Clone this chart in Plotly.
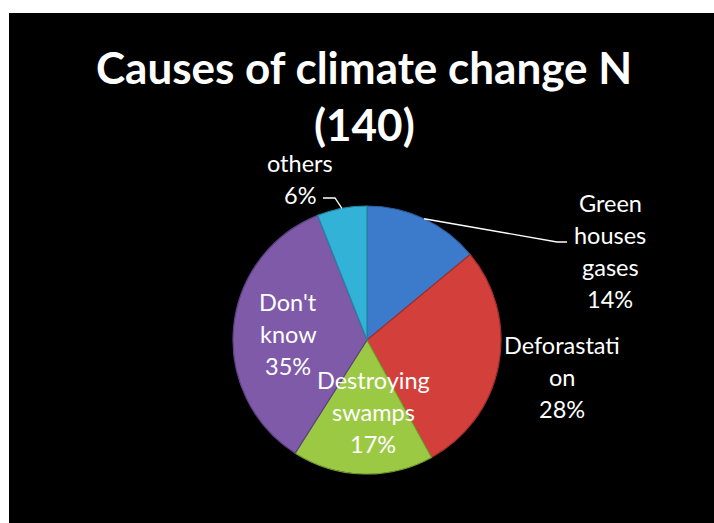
import math
import plotly.graph_objects as go

W, H = 714, 523

# Survey answers (percent of N = 140), clockwise from 12 o'clock
causes = ["Green houses gases", "Deforastation", "Destroying swamps", "Don't know", "others"]
shares = [14, 28, 17, 35, 6]
colors = ["#3C7BCB", "#D3403B", "#9CC944", "#7E5AA9", "#31B2D6"]
edge_colors = ["#2D5E9E", "#A32E2A", "#769A31", "#5E4182", "#2386A3"]

# label text lines per slice
label_lines = [
    ["Green", "houses", "gases", "14%"],
    ["Deforastati", "on", "28%"],
    ["Destroying", "swamps", "17%"],
    ["Don't", "know", "35%"],
    ["others", "6%"],
]

# pie geometry (pixels)
cx, cy, r = 367, 340, 134

# label anchor (centre x, first-line y) in pixels and line pitch
label_pos = [(610, 203), (562, 345), (373, 380), (288, 302), (300, 163)]
pitch = 32

fig = go.Figure()
fig.add_trace(go.Pie(
    labels=causes,
    values=shares,
    sort=False,
    direction="clockwise",
    rotation=0,
    textinfo="none",
    hoverinfo="label+percent",
    marker=dict(colors=colors, line=dict(color=edge_colors, width=1.2)),
    domain=dict(x=[(cx - r) / W, (cx + r) / W], y=[1 - (cy + r) / H, 1 - (cy - r) / H]),
    showlegend=False,
))

def px(x):
    return x / W

def py(y):
    return 1 - y / H

shapes = [dict(type="rect", xref="paper", yref="paper", x0=px(9), x1=1, y0=0, y1=py(13),
               fillcolor="#000000", line=dict(width=0), layer="below")]

# leader lines for the two slices labelled outside the pie
total = sum(shares)
cum = 0
mids = []
for v in shares:
    mids.append((cum + v / 2) / total * 2 * math.pi)
    cum += v

def edge_point(i):
    a = mids[i]
    return cx + r * math.sin(a), cy - r * math.cos(a)

x0, y0 = edge_point(0)
shapes.append(dict(type="path", xref="paper", yref="paper",
                   path=f"M {px(x0)},{py(y0)} L {px(557)},{py(242)} L {px(567)},{py(242)}",
                   line=dict(color="white", width=1.3)))
x4, y4 = edge_point(4)
shapes.append(dict(type="path", xref="paper", yref="paper",
                   path=f"M {px(x4)},{py(y4)} L {px(335)},{py(198)} L {px(323)},{py(198)}",
                   line=dict(color="white", width=1.3)))

annotations = []
font_lbl = dict(family="Lato, 'Open Sans', sans-serif", size=23.5, color="white")
for lines, (lx, ly) in zip(label_lines, label_pos):
    for k, t in enumerate(lines):
        annotations.append(dict(text=t, x=px(lx), y=py(ly + k * pitch), xref="paper", yref="paper",
                                xanchor="center", yanchor="middle", showarrow=False, font=font_lbl))

font_title = dict(family="Lato, 'Open Sans', sans-serif", size=44, color="white", weight="bold")
for t, ty in [("Causes of climate change N", 67), ("(140)", 124)]:
    annotations.append(dict(text=f"<b>{t}</b>", x=px(364), y=py(ty), xref="paper", yref="paper",
                            xanchor="center", yanchor="middle", showarrow=False, font=font_title))

fig.update_layout(
    width=W, height=H,
    margin=dict(l=0, r=0, t=0, b=0),
    paper_bgcolor="white",
    plot_bgcolor="white",
    shapes=shapes,
    annotations=annotations,
)

fig.write_html("out.html")
